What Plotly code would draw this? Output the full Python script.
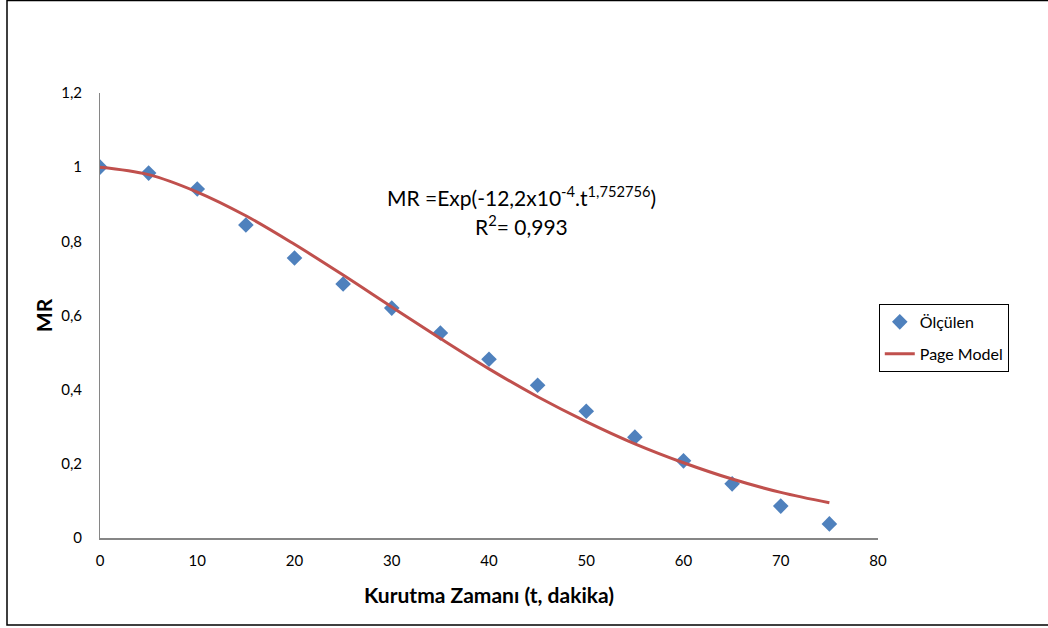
import plotly.graph_objects as go

t_meas = [0, 5, 10, 15, 20, 25, 30, 35, 40, 45, 50, 55, 60, 65, 70, 75]
mr_meas = [1.0, 0.984, 0.941, 0.844, 0.755, 0.685, 0.620, 0.553, 0.482, 0.412,
           0.342, 0.272, 0.208, 0.146, 0.086, 0.038]

# Page model curve
t_model = [0, 5, 10, 15, 20, 25, 30, 35, 40, 45, 50, 55, 60, 65, 70, 75]
mr_model = [1.0, 0.980, 0.933, 0.869, 0.792, 0.709, 0.623, 0.538, 0.456, 0.381,
            0.314, 0.254, 0.203, 0.159, 0.123, 0.095]

x_ticks = [0, 10, 20, 30, 40, 50, 60, 70, 80]
y_ticks = [0, 0.2, 0.4, 0.6, 0.8, 1.0, 1.2]

FONT = "Lato"

fig = go.Figure()
fig.add_trace(go.Scatter(
    x=t_meas, y=mr_meas, mode="markers", name="Ölçülen", legendgroup="a",
    marker=dict(symbol="diamond", size=12, color="#4F81BD"),
))
fig.add_trace(go.Scatter(
    x=t_model, y=mr_model, mode="lines", name="Page Model", legendgroup="b",
    line=dict(color="#C0504D", width=3, shape="spline"),
))

fig.update_layout(
    width=1048, height=628,
    margin=dict(l=100, r=170, t=93, b=90),
    paper_bgcolor="white", plot_bgcolor="white",
    separators=", ",
    font=dict(family=FONT, size=15, color="black"),
    showlegend=True,
    legend=dict(
        x=1.001, y=0.526, xanchor="left", yanchor="top",
        bordercolor="black", borderwidth=1,
        font=dict(size=16), bgcolor="white",
        traceorder="grouped", tracegroupgap=8,
    ),
    xaxis=dict(
        range=[0, 80], tickvals=x_ticks, showgrid=False, zeroline=False,
        showline=True, linecolor="#868686", linewidth=2, ticks="",
        tickfont=dict(size=15), ticklabelstandoff=8,
        title=dict(text="<b>Kurutma Zamanı (t, dakika)</b>", font=dict(size=21), standoff=20),
    ),
    yaxis=dict(
        range=[0, 1.2], tickvals=y_ticks, showgrid=False, zeroline=False,
        showline=True, linecolor="#868686", linewidth=1, ticks="",
        tickfont=dict(size=15), ticklabelstandoff=14,
        title=dict(text="<b>MR</b>", font=dict(size=21), standoff=2),
    ),
)

fig.add_annotation(
    x=0.542, y=(538 - 196) / 445, xref="paper", yref="paper",
    text="MR =Exp(-12,2x10<sup>-4</sup>.t<sup>1,752756</sup>)",
    showarrow=False, font=dict(size=21), xanchor="center", yanchor="middle",
)
fig.add_annotation(
    x=0.542, y=(538 - 225) / 445, xref="paper", yref="paper",
    text="R<sup>2</sup>= 0,993",
    showarrow=False, font=dict(size=21), xanchor="center", yanchor="middle",
)

# outer chart border
fig.add_shape(
    type="rect", xref="paper", yref="paper",
    x0=(7 - 100) / 778, x1=(1052 - 100) / 778,
    y0=(538 - 625) / 445, y1=(538 - 0.5) / 445,
    line=dict(color="black", width=1.5), layer="below",
)

fig.write_html("out.html")
